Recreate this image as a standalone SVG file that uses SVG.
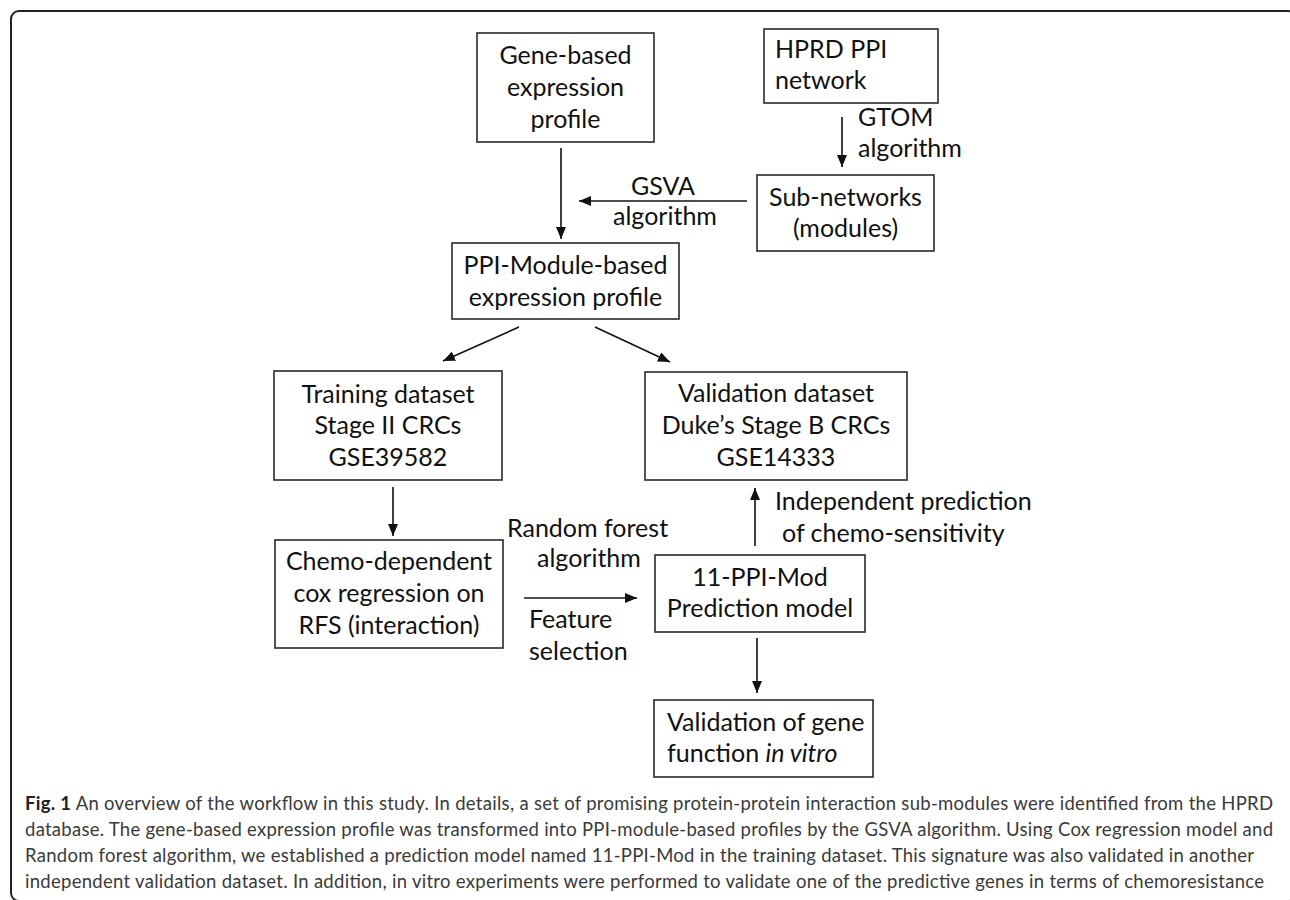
<svg xmlns="http://www.w3.org/2000/svg" width="1290" height="900" viewBox="0 0 1290 900">
<style>
.box{fill:#fff;stroke:#2a2a2a;stroke-width:1.6}
.t{font-family:Lato,"Liberation Sans",sans-serif;font-size:25px;fill:#111}
.c{text-anchor:middle}
.cap{font-family:Lato,"Liberation Sans",sans-serif;font-size:18.5px;fill:#3a3a3a}
.ln{stroke:#111;stroke-width:1.6;fill:none;marker-end:url(#ah)}
</style>
<defs>
<marker id="ah" markerUnits="userSpaceOnUse" markerWidth="12" markerHeight="10" viewBox="0 0 12 10" refX="12" refY="5" orient="auto">
<path d="M0,0 L12,5 L0,10 Z" fill="#111"/>
</marker>
</defs>
<rect x="0" y="0" width="1290" height="900" fill="#fff"/>
<rect id="frame" x="11" y="11" width="1285" height="890" rx="8" fill="none" stroke="#222" stroke-width="2"/>

<g id="connectors">
<line class="ln" x1="842" y1="117" x2="842" y2="167"/>
<line class="ln" x1="747" y1="201" x2="579" y2="201"/>
<line class="ln" x1="561" y1="148" x2="561" y2="239"/>
<line class="ln" x1="519" y1="327" x2="443" y2="361"/>
<line class="ln" x1="595" y1="327" x2="670" y2="362"/>
<line class="ln" x1="393" y1="487" x2="393" y2="536"/>
<line class="ln" x1="524" y1="598" x2="637" y2="598"/>
<line class="ln" x1="755" y1="546" x2="755" y2="488"/>
<line class="ln" x1="757" y1="638" x2="757" y2="693"/>
<g id="labels" class="t">
<text x="858" y="126">GTOM</text>
<text x="858" y="157">algorithm</text>
<text class="c" x="663" y="195">GSVA</text>
<text class="c" x="665" y="225">algorithm</text>
<text x="507" y="537">Random forest</text>
<text x="537" y="567">algorithm</text>
<text x="529" y="628">Feature</text>
<text x="529" y="660">selection</text>
<text x="775" y="510">Independent prediction</text>
<text x="782" y="542">of chemo-sensitivity</text>
</g>
</g>

<g id="gene-profile">
<rect class="box" x="477" y="33" width="177" height="109"/>
<text class="t c" x="565.5" y="64">Gene-based</text>
<text class="t c" x="565.5" y="96">expression</text>
<text class="t c" x="565.5" y="128">profile</text>
</g>
<g id="hprd">
<rect class="box" x="764" y="29" width="174" height="74"/>
<text class="t" x="775" y="58">HPRD PPI</text>
<text class="t" x="775" y="89">network</text>
</g>
<g id="subnetworks">
<rect class="box" x="757" y="175" width="177" height="76"/>
<text class="t c" x="845.5" y="206">Sub-networks</text>
<text class="t c" x="845.5" y="237">(modules)</text>
</g>
<g id="ppi-profile">
<rect class="box" x="452" y="243" width="227" height="76"/>
<text class="t c" x="565.5" y="274">PPI-Module-based</text>
<text class="t c" x="565.5" y="306">expression profile</text>
</g>
<g id="training">
<rect class="box" x="274" y="371" width="228" height="109"/>
<text class="t c" x="388" y="403">Training dataset</text>
<text class="t c" x="388" y="434">Stage II CRCs</text>
<text class="t c" x="388" y="466">GSE39582</text>
</g>
<g id="validation">
<rect class="box" x="645" y="372" width="262" height="108"/>
<text class="t c" x="776" y="402">Validation dataset</text>
<text class="t c" x="776" y="434">Duke’s Stage B CRCs</text>
<text class="t c" x="776" y="466">GSE14333</text>
</g>
<g id="chemo">
<rect class="box" x="275" y="540" width="228" height="108"/>
<text class="t c" x="389" y="570">Chemo-dependent</text>
<text class="t c" x="389" y="602">cox regression on</text>
<text class="t c" x="389" y="634">RFS (interaction)</text>
</g>
<g id="model">
<rect class="box" x="655" y="555" width="210" height="77"/>
<text class="t c" x="760" y="586">11-PPI-Mod</text>
<text class="t c" x="760" y="617">Prediction model</text>
</g>
<g id="invitro">
<rect class="box" x="654" y="700" width="219" height="77"/>
<text class="t" x="667" y="731">Validation of gene</text>
<text class="t" x="667" y="762">function <tspan font-style="italic">in vitro</tspan></text>
</g>

<g id="caption" class="cap">
<text x="25" y="810" textLength="1248" lengthAdjust="spacing"><tspan font-weight="bold" fill="#222">Fig. 1</tspan> An overview of the workflow in this study. In details, a set of promising protein-protein interaction sub-modules were identified from the HPRD</text>
<text x="25" y="836" textLength="1248" lengthAdjust="spacing">database. The gene-based expression profile was transformed into PPI-module-based profiles by the GSVA algorithm. Using Cox regression model and</text>
<text x="25" y="862" textLength="1229" lengthAdjust="spacing">Random forest algorithm, we established a prediction model named 11-PPI-Mod in the training dataset. This signature was also validated in another</text>
<text x="25" y="888" textLength="1239" lengthAdjust="spacing">independent validation dataset. In addition, in vitro experiments were performed to validate one of the predictive genes in terms of chemoresistance</text>
</g>
</svg>
